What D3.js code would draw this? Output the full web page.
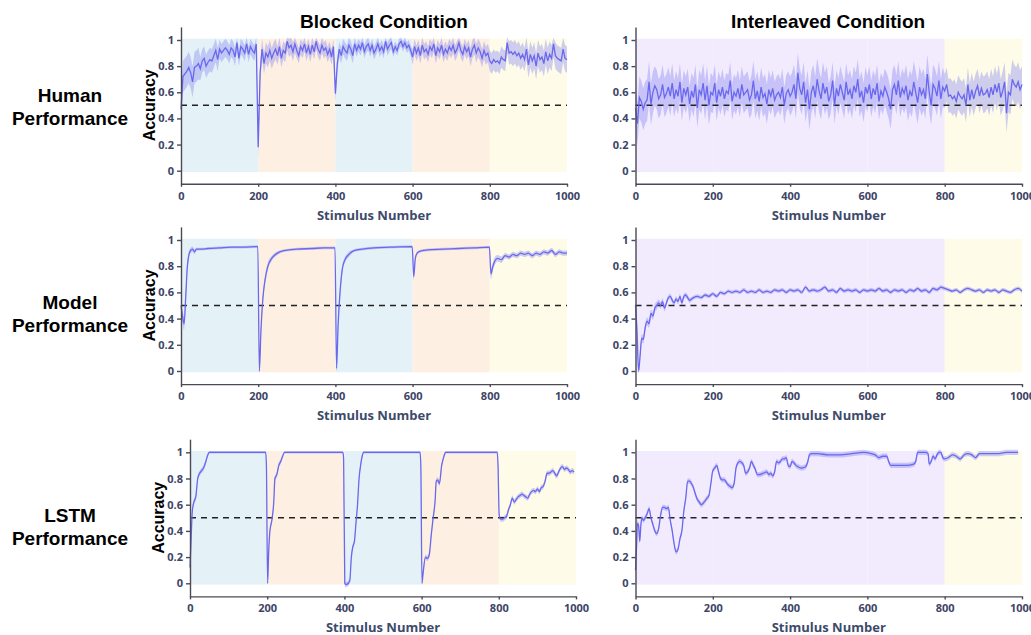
<!DOCTYPE html>
<html>
<head>
<meta charset="utf-8">
<script src="https://cdn.jsdelivr.net/npm/d3@7"></script>
<style>
  body { margin: 0; background: #fff; }
  .tick text { font-family: "Open Sans", sans-serif; font-weight: 700; font-size: 11px; fill: #3d4466; }
  .domain, .tick line { stroke: #4a4a55; stroke-width: 1.4px; }
</style>
</head>
<body>
<svg id="fig" width="1031" height="635"></svg>
<script>
// ---- data ----
var phaseEdges = [0, 200, 400, 600, 800, 1000];
var blockedPhases = ["A", "B", "A", "B", "test"];
var interleavedPhases = ["mix", "mix", "mix", "mix", "test"];

var xTicks = [0, 200, 400, 600, 800, 1000];
var yTicks = [0, 0.2, 0.4, 0.6, 0.8, 1];
var chance = 0.5;

var columnTitles = ["Blocked Condition", "Interleaved Condition"];
var rowTitles = [["Human", "Performance"], ["Model", "Performance"], ["LSTM", "Performance"]];

// human data: one mean every 5 stimuli
var humanStep = 5;
var humanBlocked = [
  0.47,0.72,0.74,0.76,0.79,0.75,0.68,0.79,0.80,0.82,
  0.78,0.84,0.86,0.80,0.83,0.85,0.84,0.88,0.92,0.85,
  0.93,0.90,0.92,0.94,0.92,0.89,0.94,0.92,0.87,0.98,
  0.86,0.95,0.93,0.90,0.97,0.89,0.95,0.92,0.90,0.97,
  0.18,0.75,0.93,0.82,0.90,0.87,0.92,0.86,0.90,0.93,
  0.88,0.95,0.86,0.92,0.90,0.99,0.94,0.96,0.91,0.97,
  0.92,0.88,0.95,0.92,0.97,0.90,0.95,0.89,0.96,0.91,
  0.99,0.93,0.90,0.96,0.92,0.94,0.89,0.93,0.87,0.95,
  0.59,0.82,0.93,0.88,0.95,0.92,0.90,0.96,0.93,0.88,
  0.97,0.92,0.96,0.93,0.98,0.91,0.95,0.97,0.92,0.96,
  0.90,0.93,0.97,0.92,0.95,0.91,0.99,0.93,0.96,0.98,
  0.91,0.95,0.92,0.97,0.99,0.95,0.98,0.94,0.96,0.92,
  0.87,0.95,0.90,0.94,0.88,0.96,0.91,0.93,0.89,0.95,
  0.92,0.97,0.88,0.94,0.91,0.96,0.89,0.93,0.90,0.95,
  0.92,0.96,0.90,0.93,0.98,0.92,0.89,0.95,0.91,0.94,
  0.87,0.93,0.96,0.90,0.94,0.91,0.86,0.92,0.88,0.90,
  0.84,0.82,0.85,0.83,0.84,0.82,0.87,0.85,0.84,0.98,
  0.90,0.91,0.89,0.91,0.88,0.90,0.86,0.89,0.85,0.93,
  0.81,0.89,0.84,0.88,0.80,0.90,0.85,0.87,0.82,0.91,
  0.84,0.89,0.86,0.97,0.88,0.86,0.85,0.84,0.93,0.86,
  0.85
];
// spread of the shaded band, one value per 50 stimuli
var humanBlockedSpread = [0.12,0.09,0.07,0.06,0.08,0.07,0.06,0.06,0.06,0.05,0.05,0.04,0.06,0.06,0.06,0.07,0.08,0.09,0.10,0.10,0.10];

var humanInterleaved = [
  0.48,0.36,0.56,0.53,0.47,0.52,0.54,0.68,0.51,0.60,
  0.65,0.62,0.55,0.58,0.66,0.56,0.59,0.64,0.57,0.67,
  0.55,0.62,0.57,0.68,0.52,0.63,0.58,0.64,0.51,0.61,
  0.56,0.66,0.48,0.62,0.58,0.67,0.54,0.65,0.50,0.60,
  0.58,0.67,0.52,0.62,0.57,0.64,0.55,0.61,0.59,0.69,
  0.53,0.60,0.57,0.63,0.55,0.66,0.58,0.60,0.62,0.54,
  0.58,0.69,0.55,0.61,0.53,0.64,0.56,0.59,0.51,0.62,
  0.57,0.63,0.54,0.58,0.60,0.56,0.64,0.50,0.59,0.62,
  0.57,0.60,0.66,0.55,0.75,0.63,0.58,0.68,0.52,0.62,
  0.47,0.60,0.65,0.56,0.70,0.61,0.55,0.67,0.59,0.64,
  0.53,0.58,0.69,0.50,0.63,0.57,0.66,0.60,0.54,0.68,
  0.58,0.62,0.55,0.65,0.60,0.70,0.56,0.61,0.52,0.64,
  0.59,0.66,0.55,0.63,0.58,0.67,0.53,0.61,0.57,0.64,
  0.60,0.55,0.47,0.62,0.66,0.58,0.69,0.56,0.63,0.59,
  0.65,0.54,0.61,0.57,0.68,0.60,0.52,0.64,0.58,0.62,
  0.55,0.74,0.60,0.50,0.66,0.63,0.57,0.69,0.55,0.64,
  0.61,0.66,0.57,0.58,0.55,0.57,0.53,0.60,0.57,0.55,
  0.58,0.50,0.66,0.54,0.62,0.55,0.61,0.65,0.57,0.63,
  0.58,0.59,0.62,0.56,0.64,0.58,0.66,0.60,0.67,0.56,
  0.61,0.68,0.44,0.60,0.58,0.70,0.66,0.64,0.68,0.62,
  0.66
];
var humanInterleavedSpread = [0.16,0.15,0.14,0.15,0.14,0.14,0.15,0.14,0.15,0.16,0.14,0.15,0.14,0.15,0.16,0.15,0.13,0.13,0.14,0.15,0.14];

// model / LSTM: [stimulus, mean, spread]
var modelBlocked = [
  [0,0.50,0.04],[5,0.40,0.05],[8,0.36,0.05],[12,0.55,0.05],[16,0.78,0.04],[20,0.88,0.03],[25,0.92,0.02],[30,0.93,0.02],[35,0.91,0.02],[40,0.93,0.01],[50,0.93,0.01],[70,0.935,0.01],[100,0.94,0.01],[130,0.945,0.01],[160,0.945,0.01],[199,0.95,0.01],
  [203,0.00,0.02],[207,0.30,0.04],[212,0.55,0.04],[218,0.70,0.03],[225,0.80,0.03],[235,0.86,0.02],[250,0.90,0.015],[270,0.92,0.01],[300,0.93,0.01],[340,0.935,0.01],[370,0.94,0.01],[399,0.94,0.01],
  [403,0.02,0.02],[407,0.35,0.04],[412,0.60,0.04],[418,0.78,0.03],[425,0.85,0.02],[435,0.89,0.02],[450,0.92,0.01],[470,0.93,0.01],[500,0.94,0.01],[540,0.945,0.01],[599,0.95,0.01],
  [603,0.72,0.03],[607,0.86,0.02],[612,0.90,0.015],[620,0.915,0.01],[640,0.925,0.01],[680,0.93,0.01],[720,0.935,0.01],[760,0.94,0.01],[799,0.945,0.01],
  [803,0.74,0.04],[808,0.80,0.03],[813,0.84,0.03],[820,0.86,0.025],[830,0.85,0.025],[840,0.88,0.02],[850,0.87,0.02],[860,0.89,0.02],[870,0.88,0.02],[880,0.90,0.02],[890,0.89,0.02],[900,0.90,0.02],[910,0.88,0.02],[920,0.90,0.02],[930,0.89,0.02],[940,0.91,0.02],[950,0.90,0.02],[960,0.92,0.02],[970,0.89,0.02],[980,0.91,0.02],[990,0.90,0.02],[1000,0.90,0.02]
];

var modelInterleaved = [
  [0,0.50,0.02],[4,0.30,0.03],[8,0.00,0.02],[12,0.12,0.03],[16,0.25,0.03],[20,0.24,0.03],[25,0.33,0.03],[30,0.38,0.03],[35,0.36,0.03],[40,0.44,0.03],[45,0.42,0.03],[50,0.48,0.03],[55,0.50,0.03],[60,0.52,0.025],[65,0.50,0.025],[70,0.53,0.025],[75,0.48,0.025],[80,0.52,0.02],[85,0.56,0.02],[90,0.57,0.02],[95,0.54,0.02],[100,0.52,0.02],[105,0.55,0.02],[110,0.53,0.02],[115,0.57,0.02],[120,0.52,0.02],[125,0.57,0.02],[130,0.58,0.02],[135,0.56,0.02],[140,0.54,0.02],
  [150,0.56,0.015],[160,0.57,0.015],[170,0.56,0.015],[180,0.58,0.015],[190,0.57,0.015],[200,0.59,0.015],[210,0.57,0.015],[220,0.60,0.015],[230,0.59,0.015],[240,0.61,0.015],[250,0.60,0.015],[260,0.61,0.015],[270,0.60,0.015],[280,0.62,0.015],[290,0.60,0.015],[300,0.61,0.015],[310,0.60,0.015],[320,0.62,0.015],[330,0.60,0.015],[340,0.61,0.015],[350,0.60,0.015],[360,0.62,0.015],[370,0.61,0.015],[380,0.62,0.015],[390,0.60,0.015],[400,0.62,0.015],
  [410,0.61,0.015],[420,0.62,0.015],[430,0.60,0.015],[440,0.64,0.015],[450,0.61,0.015],[460,0.62,0.015],[470,0.61,0.015],[480,0.62,0.015],[490,0.64,0.015],[500,0.61,0.015],[510,0.62,0.015],[520,0.60,0.015],[530,0.63,0.015],[540,0.61,0.015],[550,0.62,0.015],[560,0.61,0.015],[570,0.62,0.015],[580,0.60,0.015],[590,0.62,0.015],[600,0.61,0.015],
  [610,0.62,0.015],[620,0.61,0.015],[630,0.63,0.015],[640,0.61,0.015],[650,0.62,0.015],[660,0.60,0.015],[670,0.62,0.015],[680,0.61,0.015],[690,0.62,0.015],[700,0.60,0.015],[710,0.62,0.015],[720,0.61,0.015],[730,0.63,0.015],[740,0.61,0.015],[750,0.62,0.015],[760,0.60,0.015],[770,0.63,0.015],[780,0.62,0.015],[790,0.64,0.015],[800,0.63,0.015],
  [810,0.62,0.015],[820,0.61,0.015],[830,0.62,0.015],[840,0.60,0.015],[850,0.62,0.015],[860,0.63,0.015],[870,0.62,0.015],[880,0.61,0.015],[890,0.62,0.015],[900,0.60,0.015],[910,0.62,0.015],[920,0.61,0.015],[930,0.62,0.015],[940,0.60,0.015],[950,0.62,0.015],[960,0.61,0.015],[970,0.60,0.015],[980,0.62,0.015],[990,0.63,0.015],[1000,0.61,0.015]
];

var lstmBlocked = [
  [0,0.12,0.02],[3,0.35,0.02],[6,0.55,0.02],[10,0.62,0.02],[15,0.66,0.02],[20,0.80,0.02],[25,0.84,0.02],[30,0.86,0.02],[35,0.88,0.02],[40,0.92,0.02],[45,0.97,0.015],[50,1.0,0.01],[100,1.0,0.01],[150,1.0,0.01],[196,1.0,0.01],[198,0.90,0.02],
  [201,0.00,0.01],[204,0.25,0.02],[207,0.40,0.02],[212,0.48,0.02],[217,0.62,0.02],[220,0.80,0.02],[225,0.83,0.02],[230,0.90,0.02],[235,0.93,0.02],[240,0.97,0.015],[245,1.0,0.01],[300,1.0,0.01],[350,1.0,0.01],[396,1.0,0.01],[398,0.95,0.02],
  [401,0.00,0.02],[404,-0.01,0.02],[410,0.00,0.02],[414,0.02,0.02],[418,0.20,0.02],[422,0.28,0.02],[426,0.32,0.02],[430,0.46,0.02],[434,0.60,0.02],[438,0.80,0.02],[442,0.90,0.02],[446,0.97,0.015],[450,1.0,0.01],[500,1.0,0.01],[550,1.0,0.01],[596,1.0,0.01],[598,0.90,0.02],
  [601,0.00,0.01],[604,0.08,0.02],[610,0.20,0.02],[615,0.19,0.02],[620,0.22,0.02],[625,0.37,0.02],[630,0.50,0.02],[635,0.63,0.02],[638,0.78,0.02],[642,0.79,0.02],[646,0.76,0.02],[652,0.90,0.02],[658,0.97,0.015],[662,1.0,0.01],[700,1.0,0.01],[750,1.0,0.01],[796,1.0,0.01],[798,0.90,0.02],
  [801,0.52,0.02],[805,0.49,0.02],[810,0.49,0.02],[815,0.50,0.02],[820,0.51,0.02],[825,0.56,0.02],[830,0.60,0.02],[835,0.65,0.02],[840,0.62,0.02],[845,0.64,0.02],[850,0.66,0.02],[855,0.67,0.02],[860,0.68,0.02],[865,0.67,0.02],[870,0.66,0.02],[875,0.65,0.02],[880,0.68,0.02],[885,0.70,0.02],[890,0.71,0.02],[895,0.70,0.02],[900,0.72,0.02],[905,0.70,0.02],[910,0.73,0.02],[915,0.74,0.02],[920,0.78,0.02],[925,0.84,0.02],[930,0.84,0.02],[935,0.85,0.02],[940,0.86,0.02],[945,0.84,0.02],[950,0.82,0.02],[955,0.85,0.02],[960,0.88,0.02],[965,0.89,0.02],[970,0.87,0.02],[975,0.88,0.02],[980,0.87,0.02],[985,0.85,0.02],[990,0.86,0.02],[995,0.85,0.02]
];

var lstmInterleaved = [
  [0,0.10,0.02],[3,0.30,0.02],[5,0.46,0.02],[8,0.44,0.02],[11,0.32,0.02],[14,0.45,0.02],[17,0.50,0.02],[20,0.48,0.02],[25,0.50,0.02],[30,0.53,0.02],[35,0.57,0.02],[40,0.50,0.02],[45,0.45,0.02],[50,0.40,0.02],[55,0.38,0.02],[60,0.42,0.02],[65,0.52,0.02],[70,0.58,0.02],[75,0.58,0.02],[80,0.57,0.02],[85,0.58,0.02],[90,0.48,0.02],[95,0.40,0.02],[100,0.30,0.02],[105,0.24,0.02],[110,0.26,0.02],[115,0.34,0.02],[120,0.40,0.02],[125,0.55,0.02],[130,0.65,0.02],[135,0.78,0.02],[140,0.78,0.02],[145,0.76,0.02],[150,0.73,0.02],[155,0.68,0.02],[160,0.64,0.02],[165,0.62,0.02],[170,0.60,0.02],[175,0.61,0.02],[180,0.63,0.02],[185,0.65,0.02],[190,0.67,0.02],[195,0.76,0.02],[200,0.86,0.02],
  [205,0.88,0.02],[210,0.90,0.02],[215,0.85,0.02],[220,0.80,0.02],[225,0.79,0.02],[230,0.79,0.02],[235,0.77,0.02],[240,0.75,0.02],[245,0.74,0.02],[250,0.73,0.02],[255,0.76,0.02],[260,0.88,0.02],[265,0.92,0.02],[270,0.93,0.02],[275,0.92,0.02],[280,0.90,0.02],[285,0.84,0.02],[290,0.85,0.02],[295,0.88,0.02],[300,0.93,0.02],[305,0.90,0.02],[310,0.87,0.02],[315,0.83,0.02],[320,0.83,0.02],[330,0.84,0.02],[340,0.85,0.02],[345,0.83,0.02],[350,0.84,0.02],[355,0.82,0.02],[360,0.85,0.02],[365,0.93,0.02],[370,0.92,0.02],[375,0.93,0.02],[380,0.95,0.02],[385,0.95,0.02],[390,0.96,0.02],[395,0.90,0.02],[400,0.89,0.02],
  [405,0.93,0.02],[410,0.92,0.02],[415,0.90,0.02],[420,0.89,0.02],[430,0.88,0.02],[440,0.89,0.02],[445,0.92,0.02],[450,0.98,0.02],[455,0.99,0.02],[470,0.99,0.02],[500,0.98,0.02],[530,0.98,0.02],[560,0.99,0.02],[590,1.00,0.02],[610,0.99,0.02],[620,0.98,0.02],[630,0.96,0.02],[640,0.97,0.02],[650,0.97,0.02],[655,0.93,0.02],[660,0.90,0.02],[680,0.90,0.02],[700,0.90,0.02],[720,0.91,0.02],[725,0.93,0.02],[730,1.00,0.02],[750,1.00,0.02],[757,0.99,0.02],[760,0.91,0.02],[765,0.93,0.02],[770,0.97,0.02],[775,0.95,0.02],[780,0.98,0.02],[785,1.00,0.02],[790,1.00,0.02],[795,0.96,0.02],[800,0.95,0.02],
  [810,0.96,0.02],[820,0.98,0.02],[830,0.97,0.02],[840,0.95,0.02],[850,0.98,0.02],[860,0.99,0.02],[870,0.98,0.02],[880,0.96,0.02],[890,0.99,0.02],[900,0.99,0.02],[920,0.99,0.02],[940,0.99,0.02],[960,1.00,0.02],[990,1.00,0.02]
];

// ---- styles ----
var phaseColor = { A: "#e4f2f7", B: "#fdf0e3", test: "#fefbe8", mix: "#f2eafd" };
var lineColor = "#6a68ee";
var bandColor = "#8d8cf0";

function humanRows(values, spread) {
  return values.map(function(v, i) {
    var x = i * humanStep;
    return [x, v, spread[Math.min(spread.length - 1, Math.floor(x / 50))]];
  });
}

var svg = d3.select("#fig");

var panels = [
  { left: 181, right: 567, y0: 170.7, y1: 40, phases: blockedPhases, rows: humanRows(humanBlocked, humanBlockedSpread), curve: d3.curveLinear, ylabel: true },
  { left: 635.5, right: 1022, y0: 170.7, y1: 40, phases: interleavedPhases, rows: humanRows(humanInterleaved, humanInterleavedSpread), curve: d3.curveLinear, ylabel: false },
  { left: 181, right: 567, y0: 371, y1: 240, phases: blockedPhases, rows: modelBlocked, curve: d3.curveMonotoneX, ylabel: true },
  { left: 635.5, right: 1022, y0: 371, y1: 240, phases: interleavedPhases, rows: modelInterleaved, curve: d3.curveMonotoneX, ylabel: false },
  { left: 190, right: 576, y0: 583.3, y1: 452.3, phases: blockedPhases, rows: lstmBlocked, curve: d3.curveMonotoneX, ylabel: true },
  { left: 635.5, right: 1022, y0: 583.3, y1: 452.3, phases: interleavedPhases, rows: lstmInterleaved, curve: d3.curveMonotoneX, ylabel: false }
];

panels.forEach(function(p) {
  var x = d3.scaleLinear().domain([0, 1000]).range([p.left, p.right]);
  var y = d3.scaleLinear().domain([0, 1]).range([p.y0, p.y1]);
  var yBottom = y(-0.1), yTop = y(1.1);
  var g = svg.append("g");

  // phase backgrounds
  g.selectAll("rect.phase")
    .data(p.phases).enter()
    .append("rect")
    .attr("class", "phase")
    .attr("x", function(d, i) { return x(phaseEdges[i]); })
    .attr("width", function(d, i) { return x(phaseEdges[i + 1]) - x(phaseEdges[i]); })
    .attr("y", y(1.01))
    .attr("height", y(-0.01) - y(1.01))
    .style("fill", function(d) { return phaseColor[d]; });

  // shaded band
  var band = d3.area()
    .curve(p.curve)
    .x(function(d) { return x(d[0]); })
    .y0(function(d) { return y(Math.max(-0.03, d[1] - d[2])); })
    .y1(function(d) { return y(Math.min(1.02, d[1] + d[2])); });
  g.append("path")
    .datum(p.rows)
    .attr("d", band)
    .style("fill", bandColor)
    .style("fill-opacity", 0.42);

  // chance line
  g.append("line")
    .attr("x1", x(0)).attr("x2", x(1000))
    .attr("y1", y(chance)).attr("y2", y(chance))
    .style("stroke", "#222")
    .style("stroke-width", 1.5)
    .style("stroke-dasharray", "6,5");

  // mean
  var line = d3.line()
    .curve(p.curve)
    .x(function(d) { return x(d[0]); })
    .y(function(d) { return y(d[1]); });
  g.append("path")
    .datum(p.rows)
    .attr("d", line)
    .style("fill", "none")
    .style("stroke", lineColor)
    .style("stroke-width", 1.3);

  // axes
  var yAxisScale = d3.scaleLinear().domain([-0.1, 1.1]).range([yBottom, yTop]);
  g.append("g")
    .attr("transform", "translate(" + p.left + ",0)")
    .call(d3.axisLeft(yAxisScale).tickValues(yTicks).tickFormat(d3.format("~g")).tickSize(4).tickSizeOuter(0).tickPadding(3));
  g.append("g")
    .attr("transform", "translate(0," + yBottom + ")")
    .call(d3.axisBottom(x).tickValues(xTicks).tickFormat(d3.format("d")).tickSize(3).tickSizeOuter(0).tickPadding(5));

  g.append("text")
    .attr("x", (p.left + p.right) / 2)
    .attr("y", yBottom + 36)
    .attr("text-anchor", "middle")
    .style("font-family", "'Open Sans', sans-serif")
    .style("font-weight", 700)
    .style("font-size", "13px")
    .style("fill", "#3d4a6a")
    .text("Stimulus Number");

  if (p.ylabel) {
    g.append("text")
      .attr("transform", "translate(" + (p.left - 26) + "," + y(0.5) + ") rotate(-90)")
      .attr("text-anchor", "middle")
      .style("font-family", "'Liberation Sans', Arial, sans-serif")
      .style("font-weight", 700)
      .style("font-size", "16px")
      .style("fill", "#000")
      .text("Accuracy");
  }
});

// column titles
svg.selectAll("text.coltitle")
  .data(columnTitles).enter()
  .append("text")
  .attr("class", "coltitle")
  .attr("x", function(d, i) { return i === 0 ? 384 : 828; })
  .attr("y", 28)
  .attr("text-anchor", "middle")
  .style("font-family", "'Liberation Sans', Arial, sans-serif")
  .style("font-weight", 700)
  .style("font-size", "19px")
  .text(function(d) { return d; });

// row titles
var rowBaselines = [102, 309, 522];
rowTitles.forEach(function(lines, r) {
  svg.append("text")
    .attr("text-anchor", "middle")
    .style("font-family", "'Liberation Sans', Arial, sans-serif")
    .style("font-weight", 700)
    .style("font-size", "19px")
    .selectAll("tspan")
    .data(lines).enter()
    .append("tspan")
    .attr("x", 70)
    .attr("y", function(d, i) { return rowBaselines[r] + i * 23; })
    .text(function(d) { return d; });
});
</script>
</body>
</html>
